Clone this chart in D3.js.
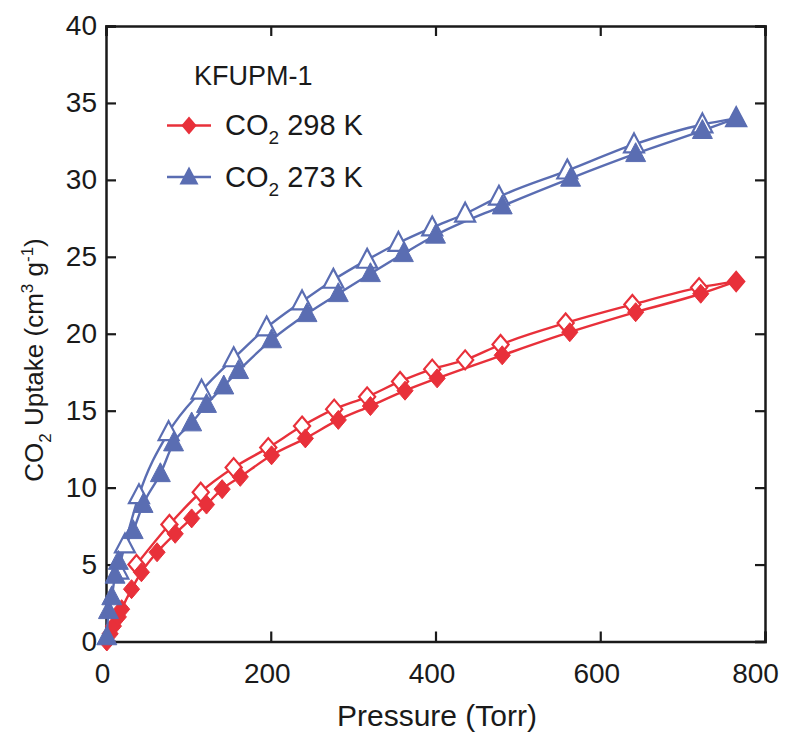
<!DOCTYPE html>
<html><head><meta charset="utf-8">
<script src="https://cdn.jsdelivr.net/npm/d3@7"></script>
<style>body{margin:0;background:#fff}text{font-family:Arial,"Liberation Sans",sans-serif;fill:#1a1a1a}</style>
</head><body><svg id="c" width="785" height="733"></svg>
<script>
// 298 K adsorption (filled diamonds)
const p298ads = [1, 5, 9, 15, 19, 31, 43, 62, 84, 104, 122, 141, 163, 201, 242, 282, 321, 363, 402, 481, 563, 643, 722, 765];
const v298ads = [0.0, 0.5, 1.0, 1.6, 2.1, 3.4, 4.5, 5.8, 7.0, 8.0, 8.9, 9.9, 10.7, 12.1, 13.2, 14.4, 15.3, 16.3, 17.1, 18.6, 20.1, 21.4, 22.6, 23.4];
// 298 K desorption (open diamonds)
const p298des = [765, 720, 639, 558, 479, 436, 396, 357, 317, 277, 238, 197, 155, 115, 77, 37];
const v298des = [23.4, 23.0, 21.9, 20.7, 19.3, 18.3, 17.7, 16.9, 15.9, 15.1, 14.0, 12.6, 11.3, 9.7, 7.6, 5.0];
// 273 K adsorption (filled triangles)
const p273ads = [1, 3, 7, 11, 15, 33, 45, 66, 82, 104, 122, 143, 161, 201, 244, 282, 321, 361, 400, 481, 564, 643, 724, 765];
const v273ads = [0.3, 2.0, 2.9, 4.3, 5.2, 7.2, 8.9, 10.9, 12.9, 14.2, 15.4, 16.6, 17.6, 19.6, 21.3, 22.6, 23.9, 25.2, 26.4, 28.3, 30.1, 31.7, 33.2, 34.0];
// 273 K desorption (open triangles)
const p273des = [765, 724, 641, 560, 477, 436, 396, 355, 317, 276, 238, 195, 155, 116, 76, 40, 23, 15];
const v273des = [34.0, 33.6, 32.3, 30.6, 28.9, 27.8, 26.9, 25.9, 24.8, 23.5, 22.1, 20.4, 18.4, 16.3, 13.6, 9.5, 6.3, 4.6];

const xTicks = [0, 200, 400, 600, 800];
const yTicks = [0, 5, 10, 15, 20, 25, 30, 35, 40];
const RED = "#e8303a", BLUE = "#5a6db2";

const svg = d3.select("#c");
const L = 106, R = 765, T = 26, B = 641.5;
const x = d3.scaleLinear().domain([0, 800]).range([L, R]);
const y = d3.scaleLinear().domain([0, 40]).range([B, T]);

const FS = 28;
// axes
const g = svg.append("g");
const tl = 10;
const xb = g.append("g").attr("transform", `translate(0,${B})`)
  .call(d3.axisBottom(x).tickValues(xTicks).tickSize(-tl).tickPadding(22).tickFormat(d3.format("d")));
xb.selectAll(".tick text").attr("dx", d => d === 800 ? -10 : -4);
g.append("g").attr("transform", `translate(0,${T})`)
  .call(d3.axisTop(x).tickValues(xTicks).tickSize(-tl).tickFormat(""));
g.append("g").attr("transform", `translate(${L},0)`)
  .call(d3.axisLeft(y).tickValues(yTicks).tickSize(-tl).tickPadding(9).tickFormat(d3.format("d")));
g.append("g").attr("transform", `translate(${R},0)`)
  .call(d3.axisRight(y).tickValues(yTicks).tickSize(-tl).tickFormat(""));
g.selectAll(".domain").attr("stroke", "#1a1a1a").attr("stroke-width", 2.5);
g.selectAll(".tick line").attr("stroke", "#1a1a1a").attr("stroke-width", 2.2);
g.selectAll(".tick text").attr("font-size", FS).attr("font-family", "Arial, Liberation Sans, sans-serif")
  .attr("fill", "#1a1a1a");

// data
const line = d3.line().x(d => x(d[0])).y(d => y(d[1])).curve(d3.curveMonotoneX);
const zip = (a, b) => a.map((v, i) => [v, b[i]]);
const diamond = (s) => `M0,${-s}L${s*0.85},0L0,${s}L${-s*0.85},0Z`;
const tri = (s) => `M0,${-s*1.05}L${s*0.95},${s*0.75}L${-s*0.95},${s*0.75}Z`;

function series(pA, vA, pD, vD, color, shape) {
  const dA = zip(pA, vA), dD = zip(pD, vD).sort((a, b) => a[0] - b[0]);
  const gg = svg.append("g");
  gg.append("path").attr("d", line(dD)).attr("fill", "none").attr("stroke", color).attr("stroke-width", 2.4);
  gg.append("path").attr("d", line(dA)).attr("fill", "none").attr("stroke", color).attr("stroke-width", 2.4);
  gg.selectAll(".o").data(dD).enter().append("path")
    .attr("transform", d => `translate(${x(d[0])},${y(d[1])})`).attr("d", shape)
    .attr("fill", "#fff").attr("stroke", color).attr("stroke-width", 2.2);
  gg.selectAll(".f").data(dA).enter().append("path")
    .attr("transform", d => `translate(${x(d[0])},${y(d[1])})`).attr("d", shape)
    .attr("fill", color).attr("stroke", color).attr("stroke-width", 1);
}
series(p298ads, v298ads, p298des, v298des, RED, diamond(9.5));
series(p273ads, v273ads, p273des, v273des, BLUE, tri(10.5));

// axis titles
svg.append("text").attr("x", 437).attr("y", 726).attr("text-anchor", "middle").attr("font-size", 30).text("Pressure (Torr)");
const yl = svg.append("text").attr("transform", `translate(43,360) rotate(-90)`).attr("text-anchor", "middle").attr("font-size", 26);
yl.append("tspan").text("CO");
yl.append("tspan").attr("font-size", 17).attr("dy", 8).text("2");
yl.append("tspan").attr("dy", -8).text(" Uptake (cm");
yl.append("tspan").attr("font-size", 17).attr("dy", -10).text("3");
yl.append("tspan").attr("dy", 10).text(" g");
yl.append("tspan").attr("font-size", 17).attr("dy", -10).text("-1");
yl.append("tspan").attr("dy", 10).text(")");

// legend
svg.append("text").attr("x", 194).attr("y", 85).attr("font-size", 27).text("KFUPM-1");
const leg = [{c: RED, s: diamond(9), t: "298 K", y: 125.5}, {c: BLUE, s: tri(10), t: "273 K", y: 177}];
leg.forEach(l => {
  svg.append("line").attr("x1", 167).attr("x2", 211).attr("y1", l.y).attr("y2", l.y).attr("stroke", l.c).attr("stroke-width", 2.4);
  svg.append("path").attr("transform", `translate(189,${l.y})`).attr("d", l.s).attr("fill", l.c);
  const t = svg.append("text").attr("x", 225).attr("y", l.y + 9.5).attr("font-size", 29);
  t.append("tspan").text("CO");
  t.append("tspan").attr("font-size", 19).attr("dy", 9).text("2");
  t.append("tspan").attr("dy", -9).text(" " + l.t);
});
</script></body></html>
